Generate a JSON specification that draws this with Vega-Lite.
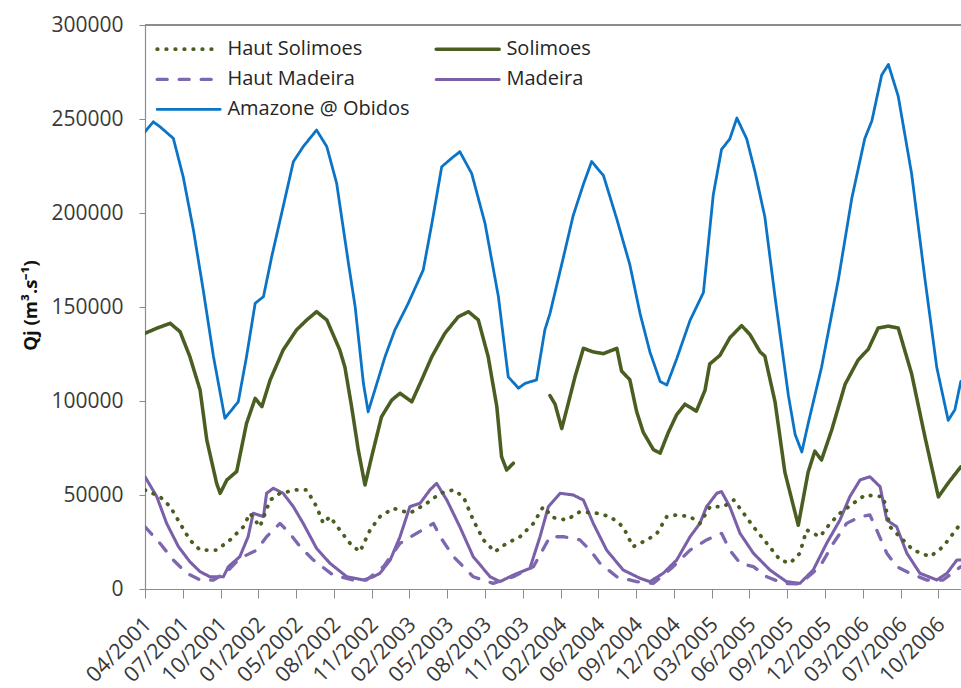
{
  "$schema": "https://vega.github.io/schema/vega-lite/v6.json",
  "width": 816,
  "height": 564,
  "autosize": {"type": "none"},
  "padding": {"left": 145, "top": 25, "right": 0, "bottom": 99},
  "background": "white",
  "config": {"view": {"stroke": null}, "font": "Open Sans"},
  "data": {
    "values": [
      {"s": "Amazone @ Obidos", "t": 0, "q": 243200},
      {"s": "Amazone @ Obidos", "t": 21, "q": 248500},
      {"s": "Amazone @ Obidos", "t": 38, "q": 245900},
      {"s": "Amazone @ Obidos", "t": 72, "q": 239700},
      {"s": "Amazone @ Obidos", "t": 97, "q": 219300},
      {"s": "Amazone @ Obidos", "t": 123, "q": 191000},
      {"s": "Amazone @ Obidos", "t": 148, "q": 159000},
      {"s": "Amazone @ Obidos", "t": 174, "q": 123600},
      {"s": "Amazone @ Obidos", "t": 203, "q": 90800},
      {"s": "Amazone @ Obidos", "t": 220, "q": 95200},
      {"s": "Amazone @ Obidos", "t": 237, "q": 99600},
      {"s": "Amazone @ Obidos", "t": 258, "q": 123600},
      {"s": "Amazone @ Obidos", "t": 280, "q": 152000},
      {"s": "Amazone @ Obidos", "t": 301, "q": 155500},
      {"s": "Amazone @ Obidos", "t": 322, "q": 176800},
      {"s": "Amazone @ Obidos", "t": 351, "q": 203300},
      {"s": "Amazone @ Obidos", "t": 377, "q": 227300},
      {"s": "Amazone @ Obidos", "t": 402, "q": 235300},
      {"s": "Amazone @ Obidos", "t": 436, "q": 244100},
      {"s": "Amazone @ Obidos", "t": 462, "q": 235300},
      {"s": "Amazone @ Obidos", "t": 487, "q": 215800},
      {"s": "Amazone @ Obidos", "t": 517, "q": 173200},
      {"s": "Amazone @ Obidos", "t": 534, "q": 150200},
      {"s": "Amazone @ Obidos", "t": 555, "q": 109400},
      {"s": "Amazone @ Obidos", "t": 567, "q": 94300},
      {"s": "Amazone @ Obidos", "t": 584, "q": 105800},
      {"s": "Amazone @ Obidos", "t": 610, "q": 123600},
      {"s": "Amazone @ Obidos", "t": 635, "q": 137800},
      {"s": "Amazone @ Obidos", "t": 669, "q": 152000},
      {"s": "Amazone @ Obidos", "t": 707, "q": 169700},
      {"s": "Amazone @ Obidos", "t": 729, "q": 194500},
      {"s": "Amazone @ Obidos", "t": 754, "q": 224600},
      {"s": "Amazone @ Obidos", "t": 779, "q": 229100},
      {"s": "Amazone @ Obidos", "t": 800, "q": 232600},
      {"s": "Amazone @ Obidos", "t": 830, "q": 221100},
      {"s": "Amazone @ Obidos", "t": 864, "q": 194500},
      {"s": "Amazone @ Obidos", "t": 898, "q": 155500},
      {"s": "Amazone @ Obidos", "t": 923, "q": 112900},
      {"s": "Amazone @ Obidos", "t": 949, "q": 106800},
      {"s": "Amazone @ Obidos", "t": 966, "q": 109400},
      {"s": "Amazone @ Obidos", "t": 995, "q": 111200},
      {"s": "Amazone @ Obidos", "t": 1016, "q": 137800},
      {"s": "Amazone @ Obidos", "t": 1029, "q": 146500},
      {"s": "Amazone @ Obidos", "t": 1063, "q": 176300},
      {"s": "Amazone @ Obidos", "t": 1088, "q": 198600},
      {"s": "Amazone @ Obidos", "t": 1114, "q": 215300},
      {"s": "Amazone @ Obidos", "t": 1135, "q": 227400},
      {"s": "Amazone @ Obidos", "t": 1165, "q": 219900},
      {"s": "Amazone @ Obidos", "t": 1199, "q": 196700},
      {"s": "Amazone @ Obidos", "t": 1232, "q": 172500},
      {"s": "Amazone @ Obidos", "t": 1258, "q": 146500},
      {"s": "Amazone @ Obidos", "t": 1283, "q": 126100},
      {"s": "Amazone @ Obidos", "t": 1309, "q": 110400},
      {"s": "Amazone @ Obidos", "t": 1326, "q": 108500},
      {"s": "Amazone @ Obidos", "t": 1351, "q": 122400},
      {"s": "Amazone @ Obidos", "t": 1385, "q": 142900},
      {"s": "Amazone @ Obidos", "t": 1419, "q": 157700},
      {"s": "Amazone @ Obidos", "t": 1444, "q": 209700},
      {"s": "Amazone @ Obidos", "t": 1465, "q": 233800},
      {"s": "Amazone @ Obidos", "t": 1486, "q": 239400},
      {"s": "Amazone @ Obidos", "t": 1504, "q": 250500},
      {"s": "Amazone @ Obidos", "t": 1529, "q": 239400},
      {"s": "Amazone @ Obidos", "t": 1550, "q": 222000},
      {"s": "Amazone @ Obidos", "t": 1575, "q": 198000},
      {"s": "Amazone @ Obidos", "t": 1601, "q": 155300},
      {"s": "Amazone @ Obidos", "t": 1635, "q": 102800},
      {"s": "Amazone @ Obidos", "t": 1652, "q": 82200},
      {"s": "Amazone @ Obidos", "t": 1669, "q": 72900},
      {"s": "Amazone @ Obidos", "t": 1685, "q": 87900},
      {"s": "Amazone @ Obidos", "t": 1719, "q": 117800},
      {"s": "Amazone @ Obidos", "t": 1762, "q": 164700},
      {"s": "Amazone @ Obidos", "t": 1796, "q": 207800},
      {"s": "Amazone @ Obidos", "t": 1829, "q": 239600},
      {"s": "Amazone @ Obidos", "t": 1847, "q": 249000},
      {"s": "Amazone @ Obidos", "t": 1872, "q": 273400},
      {"s": "Amazone @ Obidos", "t": 1889, "q": 279000},
      {"s": "Amazone @ Obidos", "t": 1914, "q": 262100},
      {"s": "Amazone @ Obidos", "t": 1948, "q": 220900},
      {"s": "Amazone @ Obidos", "t": 1982, "q": 164700},
      {"s": "Amazone @ Obidos", "t": 2012, "q": 117800},
      {"s": "Amazone @ Obidos", "t": 2041, "q": 89700},
      {"s": "Amazone @ Obidos", "t": 2058, "q": 95400},
      {"s": "Amazone @ Obidos", "t": 2073, "q": 110400},

      {"s": "Solimoes", "t": 0, "q": 136000},
      {"s": "Solimoes", "t": 30, "q": 138700},
      {"s": "Solimoes", "t": 64, "q": 141300},
      {"s": "Solimoes", "t": 89, "q": 136900},
      {"s": "Solimoes", "t": 114, "q": 123600},
      {"s": "Solimoes", "t": 140, "q": 105800},
      {"s": "Solimoes", "t": 157, "q": 79300},
      {"s": "Solimoes", "t": 182, "q": 56200},
      {"s": "Solimoes", "t": 191, "q": 50900},
      {"s": "Solimoes", "t": 208, "q": 58000},
      {"s": "Solimoes", "t": 233, "q": 62500},
      {"s": "Solimoes", "t": 258, "q": 88100},
      {"s": "Solimoes", "t": 280, "q": 101400},
      {"s": "Solimoes", "t": 297, "q": 97000},
      {"s": "Solimoes", "t": 318, "q": 111200},
      {"s": "Solimoes", "t": 351, "q": 127100},
      {"s": "Solimoes", "t": 385, "q": 137800},
      {"s": "Solimoes", "t": 411, "q": 143100},
      {"s": "Solimoes", "t": 436, "q": 147500},
      {"s": "Solimoes", "t": 462, "q": 143100},
      {"s": "Solimoes", "t": 495, "q": 127100},
      {"s": "Solimoes", "t": 508, "q": 118000},
      {"s": "Solimoes", "t": 525, "q": 97000},
      {"s": "Solimoes", "t": 542, "q": 73900},
      {"s": "Solimoes", "t": 559, "q": 55300},
      {"s": "Solimoes", "t": 576, "q": 70400},
      {"s": "Solimoes", "t": 601, "q": 91600},
      {"s": "Solimoes", "t": 627, "q": 100500},
      {"s": "Solimoes", "t": 648, "q": 104100},
      {"s": "Solimoes", "t": 678, "q": 99600},
      {"s": "Solimoes", "t": 703, "q": 111200},
      {"s": "Solimoes", "t": 729, "q": 123600},
      {"s": "Solimoes", "t": 762, "q": 136000},
      {"s": "Solimoes", "t": 796, "q": 144800},
      {"s": "Solimoes", "t": 822, "q": 147500},
      {"s": "Solimoes", "t": 847, "q": 143100},
      {"s": "Solimoes", "t": 872, "q": 123600},
      {"s": "Solimoes", "t": 894, "q": 97000},
      {"s": "Solimoes", "t": 906, "q": 70400},
      {"s": "Solimoes", "t": 919, "q": 63300},
      {"s": "Solimoes", "t": 936, "q": 66900},
      {"s": "Solimoes", "t": 980, "q": null},
      {"s": "Solimoes", "t": 1029, "q": 102900},
      {"s": "Solimoes", "t": 1042, "q": 98300},
      {"s": "Solimoes", "t": 1059, "q": 85300},
      {"s": "Solimoes", "t": 1075, "q": 98300},
      {"s": "Solimoes", "t": 1093, "q": 113100},
      {"s": "Solimoes", "t": 1114, "q": 128000},
      {"s": "Solimoes", "t": 1139, "q": 126100},
      {"s": "Solimoes", "t": 1165, "q": 125200},
      {"s": "Solimoes", "t": 1199, "q": 128000},
      {"s": "Solimoes", "t": 1211, "q": 115900},
      {"s": "Solimoes", "t": 1232, "q": 111300},
      {"s": "Solimoes", "t": 1249, "q": 94600},
      {"s": "Solimoes", "t": 1266, "q": 83400},
      {"s": "Solimoes", "t": 1292, "q": 74100},
      {"s": "Solimoes", "t": 1309, "q": 72300},
      {"s": "Solimoes", "t": 1330, "q": 83400},
      {"s": "Solimoes", "t": 1351, "q": 92700},
      {"s": "Solimoes", "t": 1372, "q": 98300},
      {"s": "Solimoes", "t": 1401, "q": 94600},
      {"s": "Solimoes", "t": 1423, "q": 105700},
      {"s": "Solimoes", "t": 1435, "q": 119700},
      {"s": "Solimoes", "t": 1461, "q": 124300},
      {"s": "Solimoes", "t": 1486, "q": 133600},
      {"s": "Solimoes", "t": 1516, "q": 140100},
      {"s": "Solimoes", "t": 1537, "q": 135400},
      {"s": "Solimoes", "t": 1563, "q": 126100},
      {"s": "Solimoes", "t": 1575, "q": 123900},
      {"s": "Solimoes", "t": 1601, "q": 99500},
      {"s": "Solimoes", "t": 1626, "q": 62100},
      {"s": "Solimoes", "t": 1660, "q": 33900},
      {"s": "Solimoes", "t": 1685, "q": 62100},
      {"s": "Solimoes", "t": 1702, "q": 73300},
      {"s": "Solimoes", "t": 1719, "q": 68600},
      {"s": "Solimoes", "t": 1745, "q": 84600},
      {"s": "Solimoes", "t": 1779, "q": 108900},
      {"s": "Solimoes", "t": 1812, "q": 121800},
      {"s": "Solimoes", "t": 1838, "q": 127600},
      {"s": "Solimoes", "t": 1863, "q": 138800},
      {"s": "Solimoes", "t": 1889, "q": 139800},
      {"s": "Solimoes", "t": 1914, "q": 138800},
      {"s": "Solimoes", "t": 1948, "q": 114500},
      {"s": "Solimoes", "t": 1982, "q": 80800},
      {"s": "Solimoes", "t": 2016, "q": 49000},
      {"s": "Solimoes", "t": 2041, "q": 56400},
      {"s": "Solimoes", "t": 2073, "q": 65000},

      {"s": "Madeira", "t": 0, "q": 59700},
      {"s": "Madeira", "t": 30, "q": 49100},
      {"s": "Madeira", "t": 55, "q": 34900},
      {"s": "Madeira", "t": 85, "q": 22500},
      {"s": "Madeira", "t": 114, "q": 14500},
      {"s": "Madeira", "t": 140, "q": 9200},
      {"s": "Madeira", "t": 165, "q": 6500},
      {"s": "Madeira", "t": 199, "q": 6500},
      {"s": "Madeira", "t": 212, "q": 11900},
      {"s": "Madeira", "t": 241, "q": 17200},
      {"s": "Madeira", "t": 262, "q": 27800},
      {"s": "Madeira", "t": 275, "q": 40300},
      {"s": "Madeira", "t": 301, "q": 38500},
      {"s": "Madeira", "t": 309, "q": 50900},
      {"s": "Madeira", "t": 326, "q": 53600},
      {"s": "Madeira", "t": 351, "q": 50900},
      {"s": "Madeira", "t": 377, "q": 43800},
      {"s": "Madeira", "t": 402, "q": 34900},
      {"s": "Madeira", "t": 436, "q": 21600},
      {"s": "Madeira", "t": 470, "q": 13700},
      {"s": "Madeira", "t": 513, "q": 6500},
      {"s": "Madeira", "t": 555, "q": 4800},
      {"s": "Madeira", "t": 580, "q": 6500},
      {"s": "Madeira", "t": 597, "q": 8400},
      {"s": "Madeira", "t": 623, "q": 15400},
      {"s": "Madeira", "t": 648, "q": 27800},
      {"s": "Madeira", "t": 673, "q": 43800},
      {"s": "Madeira", "t": 699, "q": 45600},
      {"s": "Madeira", "t": 724, "q": 52700},
      {"s": "Madeira", "t": 741, "q": 56200},
      {"s": "Madeira", "t": 767, "q": 47300},
      {"s": "Madeira", "t": 800, "q": 33100},
      {"s": "Madeira", "t": 834, "q": 17200},
      {"s": "Madeira", "t": 877, "q": 6500},
      {"s": "Madeira", "t": 902, "q": 3900},
      {"s": "Madeira", "t": 936, "q": 7400},
      {"s": "Madeira", "t": 978, "q": 11000},
      {"s": "Madeira", "t": 1004, "q": 28000},
      {"s": "Madeira", "t": 1025, "q": 43800},
      {"s": "Madeira", "t": 1055, "q": 50900},
      {"s": "Madeira", "t": 1088, "q": 50000},
      {"s": "Madeira", "t": 1114, "q": 47300},
      {"s": "Madeira", "t": 1139, "q": 34900},
      {"s": "Madeira", "t": 1173, "q": 20700},
      {"s": "Madeira", "t": 1215, "q": 10100},
      {"s": "Madeira", "t": 1258, "q": 5700},
      {"s": "Madeira", "t": 1283, "q": 3900},
      {"s": "Madeira", "t": 1317, "q": 8400},
      {"s": "Madeira", "t": 1351, "q": 15400},
      {"s": "Madeira", "t": 1385, "q": 27800},
      {"s": "Madeira", "t": 1410, "q": 34900},
      {"s": "Madeira", "t": 1427, "q": 43800},
      {"s": "Madeira", "t": 1453, "q": 50900},
      {"s": "Madeira", "t": 1465, "q": 51800},
      {"s": "Madeira", "t": 1486, "q": 43800},
      {"s": "Madeira", "t": 1512, "q": 29600},
      {"s": "Madeira", "t": 1546, "q": 19000},
      {"s": "Madeira", "t": 1588, "q": 10100},
      {"s": "Madeira", "t": 1630, "q": 3900},
      {"s": "Madeira", "t": 1664, "q": 3000},
      {"s": "Madeira", "t": 1698, "q": 10100},
      {"s": "Madeira", "t": 1732, "q": 24300},
      {"s": "Madeira", "t": 1766, "q": 36700},
      {"s": "Madeira", "t": 1791, "q": 49100},
      {"s": "Madeira", "t": 1817, "q": 58000},
      {"s": "Madeira", "t": 1842, "q": 59700},
      {"s": "Madeira", "t": 1868, "q": 54400},
      {"s": "Madeira", "t": 1885, "q": 36700},
      {"s": "Madeira", "t": 1910, "q": 33100},
      {"s": "Madeira", "t": 1936, "q": 19000},
      {"s": "Madeira", "t": 1969, "q": 8400},
      {"s": "Madeira", "t": 2012, "q": 4800},
      {"s": "Madeira", "t": 2038, "q": 8400},
      {"s": "Madeira", "t": 2063, "q": 15400},
      {"s": "Madeira", "t": 2073, "q": 15400},

      {"s": "Haut Madeira", "t": 0, "q": 33100},
      {"s": "Haut Madeira", "t": 38, "q": 24300},
      {"s": "Haut Madeira", "t": 72, "q": 15400},
      {"s": "Haut Madeira", "t": 106, "q": 8400},
      {"s": "Haut Madeira", "t": 140, "q": 4800},
      {"s": "Haut Madeira", "t": 174, "q": 4800},
      {"s": "Haut Madeira", "t": 208, "q": 9200},
      {"s": "Haut Madeira", "t": 241, "q": 16300},
      {"s": "Haut Madeira", "t": 284, "q": 20700},
      {"s": "Haut Madeira", "t": 309, "q": 27800},
      {"s": "Haut Madeira", "t": 343, "q": 34900},
      {"s": "Haut Madeira", "t": 368, "q": 29600},
      {"s": "Haut Madeira", "t": 394, "q": 22500},
      {"s": "Haut Madeira", "t": 428, "q": 15400},
      {"s": "Haut Madeira", "t": 478, "q": 7400},
      {"s": "Haut Madeira", "t": 529, "q": 4800},
      {"s": "Haut Madeira", "t": 563, "q": 4800},
      {"s": "Haut Madeira", "t": 606, "q": 11900},
      {"s": "Haut Madeira", "t": 648, "q": 24300},
      {"s": "Haut Madeira", "t": 690, "q": 29600},
      {"s": "Haut Madeira", "t": 733, "q": 34900},
      {"s": "Haut Madeira", "t": 750, "q": 27800},
      {"s": "Haut Madeira", "t": 784, "q": 17200},
      {"s": "Haut Madeira", "t": 834, "q": 6500},
      {"s": "Haut Madeira", "t": 885, "q": 3000},
      {"s": "Haut Madeira", "t": 936, "q": 6500},
      {"s": "Haut Madeira", "t": 987, "q": 11900},
      {"s": "Haut Madeira", "t": 1029, "q": 27800},
      {"s": "Haut Madeira", "t": 1063, "q": 27800},
      {"s": "Haut Madeira", "t": 1105, "q": 26100},
      {"s": "Haut Madeira", "t": 1131, "q": 20700},
      {"s": "Haut Madeira", "t": 1156, "q": 13700},
      {"s": "Haut Madeira", "t": 1199, "q": 6500},
      {"s": "Haut Madeira", "t": 1249, "q": 3900},
      {"s": "Haut Madeira", "t": 1292, "q": 3000},
      {"s": "Haut Madeira", "t": 1342, "q": 11900},
      {"s": "Haut Madeira", "t": 1385, "q": 20700},
      {"s": "Haut Madeira", "t": 1427, "q": 26100},
      {"s": "Haut Madeira", "t": 1465, "q": 29600},
      {"s": "Haut Madeira", "t": 1486, "q": 20700},
      {"s": "Haut Madeira", "t": 1512, "q": 13700},
      {"s": "Haut Madeira", "t": 1546, "q": 11900},
      {"s": "Haut Madeira", "t": 1580, "q": 6500},
      {"s": "Haut Madeira", "t": 1622, "q": 3000},
      {"s": "Haut Madeira", "t": 1664, "q": 2700},
      {"s": "Haut Madeira", "t": 1715, "q": 11900},
      {"s": "Haut Madeira", "t": 1749, "q": 24300},
      {"s": "Haut Madeira", "t": 1783, "q": 34900},
      {"s": "Haut Madeira", "t": 1817, "q": 38500},
      {"s": "Haut Madeira", "t": 1842, "q": 39400},
      {"s": "Haut Madeira", "t": 1863, "q": 29600},
      {"s": "Haut Madeira", "t": 1885, "q": 19000},
      {"s": "Haut Madeira", "t": 1910, "q": 11900},
      {"s": "Haut Madeira", "t": 1944, "q": 8400},
      {"s": "Haut Madeira", "t": 1986, "q": 4800},
      {"s": "Haut Madeira", "t": 2028, "q": 4800},
      {"s": "Haut Madeira", "t": 2073, "q": 11900},

      {"s": "Haut Solimoes", "t": 0, "q": 52700},
      {"s": "Haut Solimoes", "t": 38, "q": 49100},
      {"s": "Haut Solimoes", "t": 64, "q": 43800},
      {"s": "Haut Solimoes", "t": 89, "q": 34900},
      {"s": "Haut Solimoes", "t": 114, "q": 26100},
      {"s": "Haut Solimoes", "t": 140, "q": 20700},
      {"s": "Haut Solimoes", "t": 182, "q": 20700},
      {"s": "Haut Solimoes", "t": 216, "q": 26100},
      {"s": "Haut Solimoes", "t": 250, "q": 33100},
      {"s": "Haut Solimoes", "t": 267, "q": 40300},
      {"s": "Haut Solimoes", "t": 292, "q": 33100},
      {"s": "Haut Solimoes", "t": 318, "q": 47300},
      {"s": "Haut Solimoes", "t": 343, "q": 50900},
      {"s": "Haut Solimoes", "t": 385, "q": 52700},
      {"s": "Haut Solimoes", "t": 411, "q": 52700},
      {"s": "Haut Solimoes", "t": 436, "q": 43800},
      {"s": "Haut Solimoes", "t": 453, "q": 34900},
      {"s": "Haut Solimoes", "t": 470, "q": 38500},
      {"s": "Haut Solimoes", "t": 495, "q": 31400},
      {"s": "Haut Solimoes", "t": 521, "q": 24300},
      {"s": "Haut Solimoes", "t": 546, "q": 19800},
      {"s": "Haut Solimoes", "t": 572, "q": 31400},
      {"s": "Haut Solimoes", "t": 597, "q": 38500},
      {"s": "Haut Solimoes", "t": 631, "q": 42900},
      {"s": "Haut Solimoes", "t": 673, "q": 40300},
      {"s": "Haut Solimoes", "t": 716, "q": 45600},
      {"s": "Haut Solimoes", "t": 750, "q": 50900},
      {"s": "Haut Solimoes", "t": 784, "q": 52700},
      {"s": "Haut Solimoes", "t": 809, "q": 49100},
      {"s": "Haut Solimoes", "t": 834, "q": 36700},
      {"s": "Haut Solimoes", "t": 860, "q": 26100},
      {"s": "Haut Solimoes", "t": 889, "q": 19800},
      {"s": "Haut Solimoes", "t": 919, "q": 24300},
      {"s": "Haut Solimoes", "t": 953, "q": 27800},
      {"s": "Haut Solimoes", "t": 987, "q": 34900},
      {"s": "Haut Solimoes", "t": 1012, "q": 43800},
      {"s": "Haut Solimoes", "t": 1037, "q": 38000},
      {"s": "Haut Solimoes", "t": 1071, "q": 36700},
      {"s": "Haut Solimoes", "t": 1105, "q": 41100},
      {"s": "Haut Solimoes", "t": 1147, "q": 40300},
      {"s": "Haut Solimoes", "t": 1182, "q": 38500},
      {"s": "Haut Solimoes", "t": 1215, "q": 33100},
      {"s": "Haut Solimoes", "t": 1240, "q": 22500},
      {"s": "Haut Solimoes", "t": 1276, "q": 26100},
      {"s": "Haut Solimoes", "t": 1301, "q": 29600},
      {"s": "Haut Solimoes", "t": 1326, "q": 38500},
      {"s": "Haut Solimoes", "t": 1351, "q": 39400},
      {"s": "Haut Solimoes", "t": 1385, "q": 38500},
      {"s": "Haut Solimoes", "t": 1410, "q": 34900},
      {"s": "Haut Solimoes", "t": 1436, "q": 43800},
      {"s": "Haut Solimoes", "t": 1470, "q": 43800},
      {"s": "Haut Solimoes", "t": 1496, "q": 47300},
      {"s": "Haut Solimoes", "t": 1521, "q": 40300},
      {"s": "Haut Solimoes", "t": 1546, "q": 33100},
      {"s": "Haut Solimoes", "t": 1580, "q": 24300},
      {"s": "Haut Solimoes", "t": 1614, "q": 15400},
      {"s": "Haut Solimoes", "t": 1639, "q": 13700},
      {"s": "Haut Solimoes", "t": 1664, "q": 19000},
      {"s": "Haut Solimoes", "t": 1681, "q": 31400},
      {"s": "Haut Solimoes", "t": 1715, "q": 27800},
      {"s": "Haut Solimoes", "t": 1741, "q": 34900},
      {"s": "Haut Solimoes", "t": 1766, "q": 40300},
      {"s": "Haut Solimoes", "t": 1800, "q": 45600},
      {"s": "Haut Solimoes", "t": 1830, "q": 50000},
      {"s": "Haut Solimoes", "t": 1876, "q": 49100},
      {"s": "Haut Solimoes", "t": 1893, "q": 33100},
      {"s": "Haut Solimoes", "t": 1918, "q": 27800},
      {"s": "Haut Solimoes", "t": 1952, "q": 20700},
      {"s": "Haut Solimoes", "t": 1995, "q": 17200},
      {"s": "Haut Solimoes", "t": 2028, "q": 22500},
      {"s": "Haut Solimoes", "t": 2073, "q": 34900}
    ]
  },
  "layer": [
    {
      "mark": {"type": "rule", "color": "#8c8c8c", "strokeWidth": 1.2},
      "encoding": {"y": {"datum": 300000, "type": "quantitative"}}
    },
    {
      "mark": {
        "type": "line",
        "strokeCap": "round",
        "strokeJoin": "round",
        "clip": true,
        "invalid": "break-paths-filter-domains"
      },
      "encoding": {
        "x": {
          "field": "t",
          "type": "quantitative",
          "scale": {"domain": [0, 2073.5], "nice": false, "zero": false},
          "axis": {
            "title": null,
            "grid": false,
            "values": [0, 96, 192, 288, 384, 480, 576, 672, 768, 864, 960, 1056, 1152, 1248, 1344, 1440, 1536, 1632, 1728, 1824, 1920, 2016],
            "labelExpr": "['04/2001','07/2001','10/2001','01/2002','05/2002','08/2002','11/2002','02/2003','05/2003','08/2003','11/2003','02/2004','06/2004','09/2004','12/2004','03/2005','06/2005','09/2005','12/2005','03/2006','07/2006','10/2006'][round(datum.value / 96)]",
            "labelAngle": -45,
            "labelAlign": "right",
            "labelBaseline": "middle",
            "labelFont": "Open Sans",
            "labelFontSize": 21.5,
            "labelColor": "#3a3a3a",
            "labelPadding": 23,
            "labelOffset": 3,
            "labelFlush": false,
            "labelOverlap": false,
            "labelBound": false,
            "tickSize": 9,
            "tickColor": "#8c8c8c",
            "domainColor": "#8c8c8c",
            "domainWidth": 1.2
          }
        },
        "y": {
          "field": "q",
          "type": "quantitative",
          "scale": {"domain": [0, 300000], "nice": false},
          "axis": {
            "grid": false,
            "values": [0, 50000, 100000, 150000, 200000, 250000, 300000],
            "format": "d",
            "labelFont": "Open Sans",
            "labelFontSize": 21,
            "labelColor": "#3a3a3a",
            "labelPadding": 16,
            "tickSize": 6,
            "tickColor": "#8c8c8c",
            "domainColor": "#8c8c8c",
            "domainWidth": 1.2,
            "title": "Qj (m³.s⁻¹)",
            "titleFont": "Open Sans",
            "titleFontSize": 18.5,
            "titleFontWeight": "bold",
            "titleColor": "#111111",
            "titleAngle": -90,
            "titleAlign": "center",
            "titleBaseline": "middle",
            "titleX": -115,
            "titleY": 280
          }
        },
        "color": {
          "field": "s",
          "type": "nominal",
          "scale": {
            "domain": ["Haut Solimoes", "Solimoes", "Haut Madeira", "Madeira", "Amazone @ Obidos"],
            "range": ["#4b5e22", "#4b5e22", "#7d67b0", "#7a60a8", "#0b74c6"]
          },
          "legend": {
            "title": null,
            "orient": "none",
            "direction": "horizontal",
            "legendX": 10,
            "legendY": 3.4,
            "columns": 2,
            "padding": 0,
            "symbolType": "M-1,0L2.44,0",
            "symbolSize": 1340,
            "symbolStrokeWidth": 3,
            "labelFont": "Open Sans",
            "labelFontSize": 20,
            "labelColor": "#262626",
            "labelOffset": 31.4,
            "rowPadding": 0,
            "columnPadding": 19,
            "labelLimit": 400,
            "encode": {"symbols": {"update": {"strokeCap": {"value": "round"}}}}
          }
        },
        "strokeDash": {
          "field": "s",
          "type": "nominal",
          "scale": {
            "domain": ["Haut Solimoes", "Solimoes", "Haut Madeira", "Madeira", "Amazone @ Obidos"],
            "range": [[0.5, 8.5], [1, 0], [10, 12], [1, 0], [1, 0]]
          },
          "legend": {
            "title": null,
            "orient": "none",
            "direction": "horizontal",
            "legendX": 10,
            "legendY": 3.4,
            "columns": 2,
            "padding": 0,
            "symbolType": "M-1,0L2.44,0",
            "symbolSize": 1340,
            "symbolStrokeWidth": 3,
            "labelFont": "Open Sans",
            "labelFontSize": 20,
            "labelColor": "#262626",
            "labelOffset": 31.4,
            "rowPadding": 0,
            "columnPadding": 19,
            "labelLimit": 400,
            "encode": {"symbols": {"update": {"strokeCap": {"value": "round"}}}}
          }
        },
        "strokeWidth": {
          "field": "s",
          "type": "nominal",
          "scale": {
            "domain": ["Haut Solimoes", "Solimoes", "Haut Madeira", "Madeira", "Amazone @ Obidos"],
            "range": [3.8, 2.8, 2.8, 2.8, 3]
          },
          "legend": null
        }
      }
    }
  ]
}
